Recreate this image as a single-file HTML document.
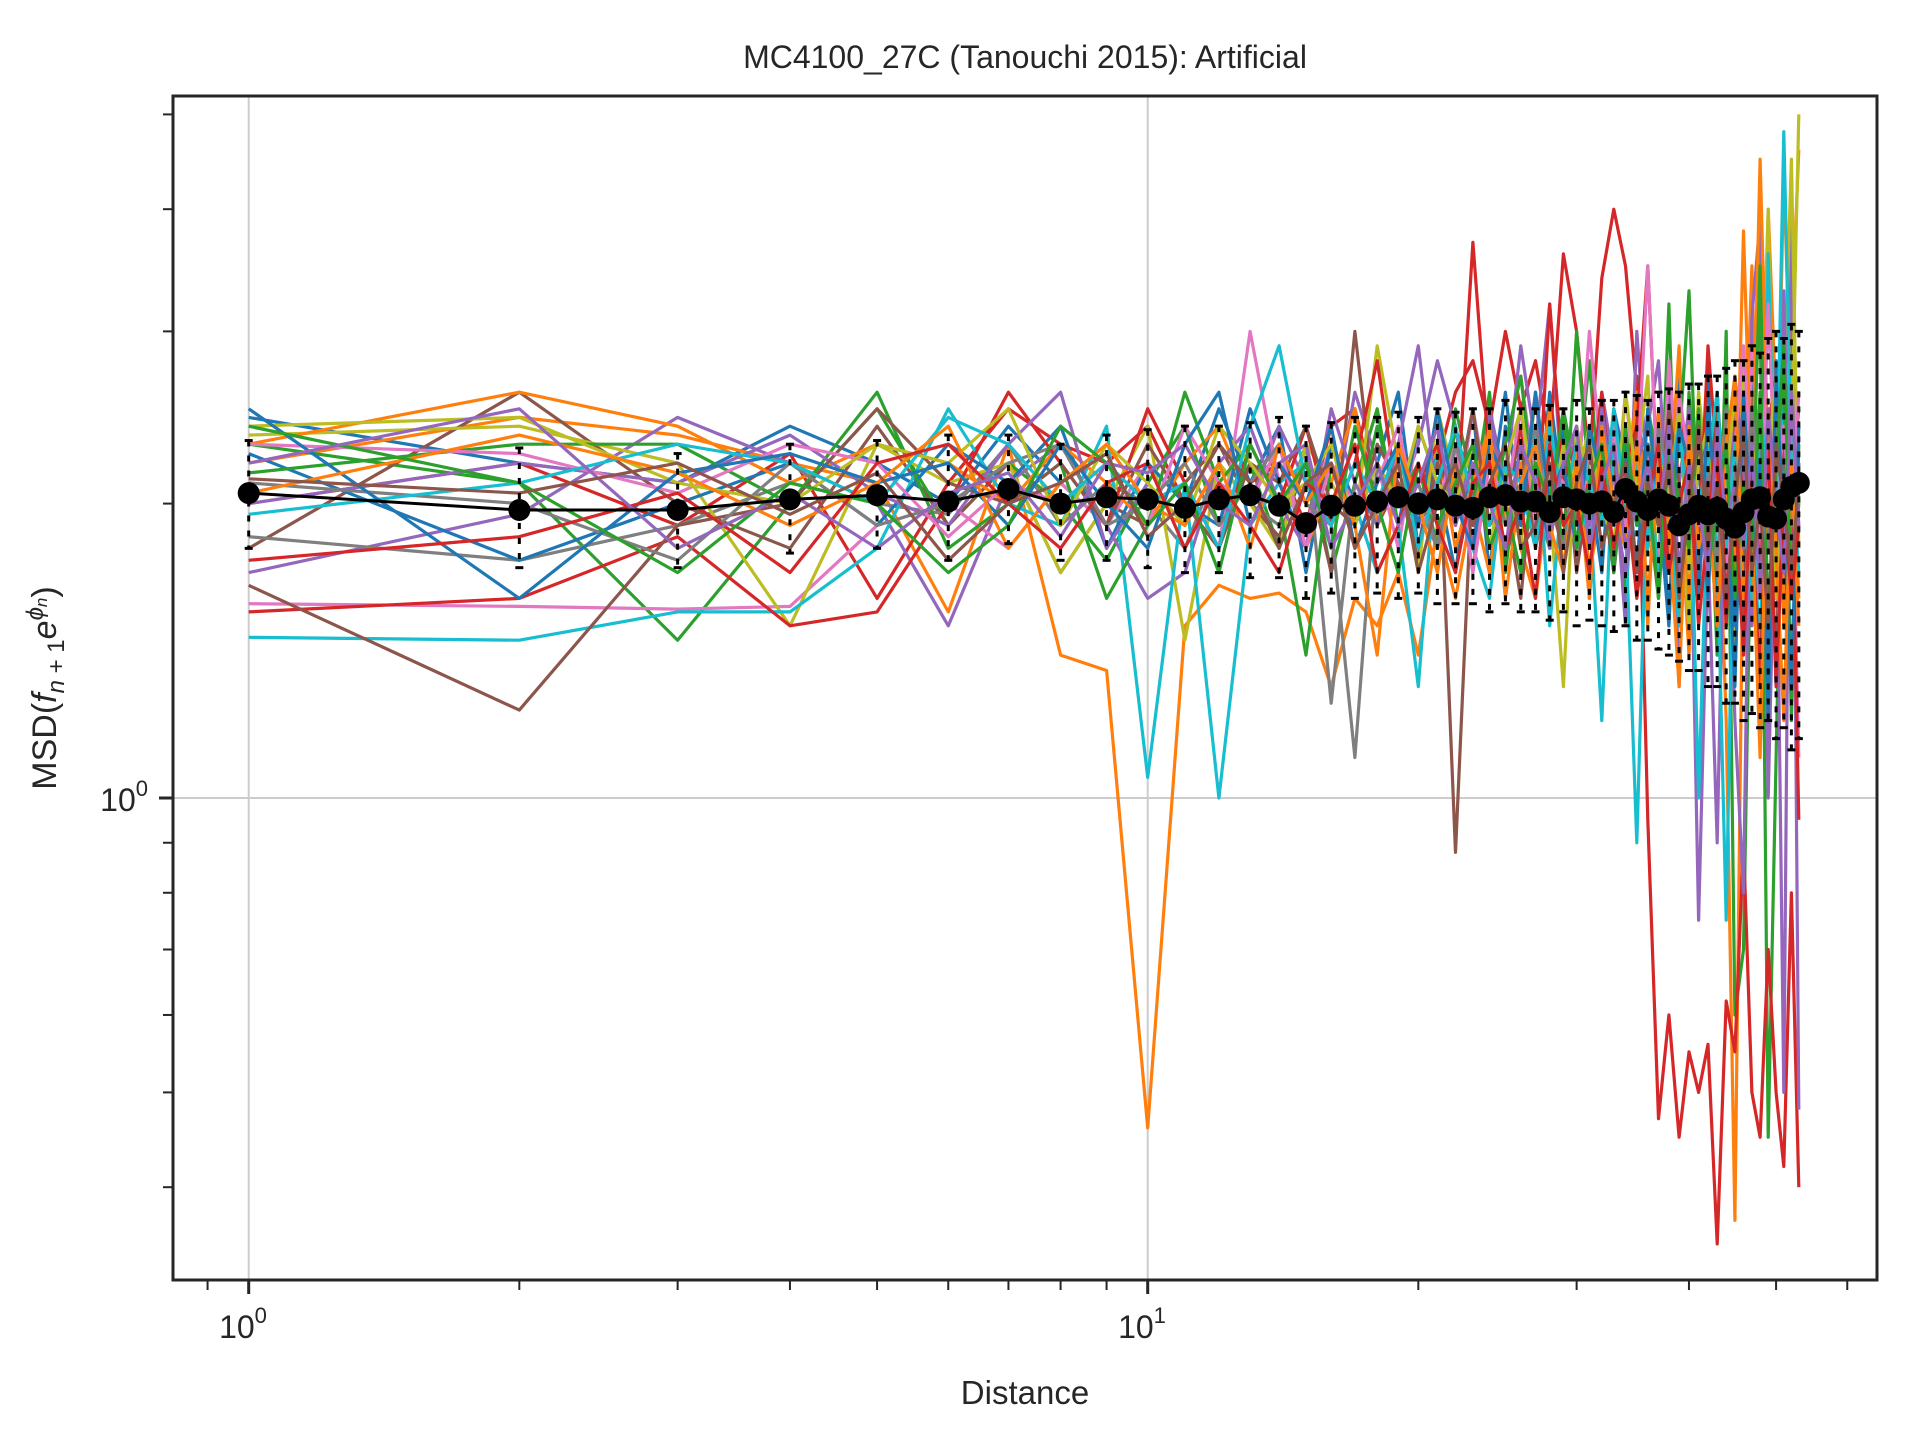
<!DOCTYPE html>
<html><head><meta charset="utf-8"><style>
html,body{margin:0;padding:0;background:#fff;}
svg{display:block;font-family:"Liberation Sans",sans-serif;}
</style></head><body>
<svg id="chart" width="1920" height="1440" viewBox="0 0 1920 1440" xmlns="http://www.w3.org/2000/svg">
<rect width="1920" height="1440" fill="#fff"/>
<text x="1025" y="68" font-size="32" text-anchor="middle" fill="#262626">MC4100_27C (Tanouchi 2015): Artificial</text>
<g id="grid"></g>
<g id="series"></g>
<g id="errs"></g>
<g id="mean"></g>
<rect x="173" y="96" width="1704" height="1184" fill="none" stroke="#262626" stroke-width="3"/>
<g id="ticks"></g>
<text x="243" y="1338" font-size="32" text-anchor="middle" fill="#262626">10<tspan dy="-15" font-size="22">0</tspan></text>
<text x="1142" y="1338" font-size="32" text-anchor="middle" fill="#262626">10<tspan dy="-15" font-size="22">1</tspan></text>
<text x="148" y="811" font-size="32" text-anchor="end" fill="#262626">10<tspan dy="-15" font-size="22">0</tspan></text>
<text x="1025" y="1404" font-size="33" text-anchor="middle" fill="#262626">Distance</text>
<text transform="translate(56,688) rotate(-90)" font-size="34" text-anchor="middle" fill="#262626">MSD(<tspan font-style="italic">f</tspan><tspan font-size="24" dy="8" font-style="italic">n</tspan><tspan font-size="24"> + 1</tspan><tspan dy="-8" font-style="italic">e</tspan><tspan font-size="24" dy="-13" font-style="italic">ϕ</tspan><tspan font-size="17" dy="4" font-style="italic">n</tspan><tspan dy="9">)</tspan></text>
</svg>
<script>
const distances = Array.from({length:53},(_,i)=>i+1);
const seriesColors = ["#1f77b4","#ff7f0e","#2ca02c","#d62728","#9467bd","#8c564b","#e377c2","#7f7f7f","#bcbd22","#17becf"];
const s0=[2.45,2.2,2.1,2.4,2.2,2.0,2.4,2.1,1.9,2.2,2.0,2.5,2.1,2.4,1.7,2.3,1.9,2.2,2.6,1.8,2.3,2.0,2.5,1.7,2.4,2.1,1.8,2.6,2.0,2.3,1.6,2.5,2.2,1.9,2.7,1.8,2.3,1.5,2.6,2.0,1.7,2.8,1.4,2.5,2.1,1.6,2.9,1.8,2.4,1.3,2.7,2.0,2.4];
const s1=[2.2,2.45,2.35,2.2,2.1,1.55,2.3,1.4,1.35,0.46,1.5,1.65,1.6,1.62,1.55,1.3,1.6,1.5,1.7,1.4,1.9,1.6,2.0,1.7,2.2,1.8,1.6,2.1,1.9,2.4,1.7,2.0,2.3,1.8,2.2,1.5,2.5,1.9,2.1,1.4,2.6,1.8,2.2,1.2,0.37,2.0,3.5,1.6,4.0,2.5,1.5,3.0,4.6];
const s2=[2.3,2.1,1.45,2.0,2.5,1.9,2.2,2.0,1.75,2.1,2.4,1.9,2.2,1.8,2.3,1.7,2.1,2.5,1.9,2.2,1.8,2.4,2.0,2.6,1.7,2.3,2.0,1.8,2.5,2.1,2.8,1.9,2.2,1.6,2.4,2.0,1.7,3.2,1.5,2.6,1.9,2.3,1.4,3.0,0.6,0.7,2.2,3.3,0.45,1.1,2.6,3.4,2.0];
const s3=[2.0,2.2,1.9,2.25,1.6,2.1,2.5,2.3,2.2,2.4,2.0,2.3,2.1,2.2,1.9,2.4,2.5,2.0,2.3,2.1,2.2,2.6,2.8,2.4,3.0,2.5,2.8,2.3,3.6,3.0,2.2,3.4,4.0,3.5,2.6,0.95,0.47,0.6,0.45,0.55,0.5,0.56,0.35,0.62,0.55,0.9,0.5,0.45,0.7,0.5,0.42,0.8,0.4];
const s4=[1.7,1.95,2.45,2.2,2.0,1.5,2.1,2.3,1.9,1.6,1.7,2.2,2.0,2.4,2.1,1.9,2.6,2.2,2.0,2.3,2.8,2.4,1.8,2.5,2.1,2.9,2.3,3.2,2.0,2.4,1.8,2.6,2.2,1.5,3.0,2.1,1.7,2.7,1.3,2.4,0.75,1.8,0.9,2.5,1.2,0.8,3.1,3.9,1.0,2.2,0.5,4.2,0.48];
const s5=[1.8,2.6,2.0,1.8,2.4,1.9,2.2,1.7,2.0,1.9,2.1,2.3,2.0,1.85,2.2,1.7,3.0,1.9,2.1,1.75,2.5,0.88,2.2,1.8,2.0,1.6,2.3,1.9,2.4,1.7,2.1,1.9,2.2,1.8,2.5,2.0,1.6,2.3,1.9,2.1,1.7,2.4,1.8,2.2,1.9,1.5,2.6,1.7,2.0,1.4,2.3,1.8,2.1];
const s6=[1.58,1.57,1.56,1.57,1.9,2.0,1.8,2.1,1.9,2.2,2.0,1.8,3.0,2.1,1.9,2.3,2.0,2.2,1.8,2.4,2.1,1.9,2.5,2.0,2.3,2.7,2.1,1.8,2.4,2.0,3.0,2.2,1.9,2.6,2.0,2.3,1.7,2.8,2.1,1.9,2.4,1.6,2.5,2.0,2.2,1.7,2.9,2.1,1.8,2.6,2.0,2.3,1.1];
const s7=[1.85,1.75,1.9,2.1,2.0,1.95,2.3,1.9,2.1,2.0,1.8,2.2,2.0,1.9,2.3,1.25,2.1,1.9,2.2,2.0,1.8,2.1,2.3,1.9,2.0,2.2,1.8,2.1,2.4,1.9,2.0,2.3,1.7,2.2,2.0,1.9,2.4,1.8,2.1,1.6,2.3,2.0,1.9,2.5,1.7,2.2,1.8,2.4,2.0,1.6,2.3,2.1,1.9];
const s8=[2.35,2.4,2.2,1.5,2.3,2.1,2.2,1.7,2.0,2.4,1.45,2.2,2.0,1.8,2.3,2.1,1.9,2.9,2.2,1.7,2.5,2.1,2.3,1.9,2.2,1.8,2.6,2.0,1.3,2.4,2.1,1.9,2.5,1.8,2.2,2.7,1.6,2.3,2.0,1.5,2.6,2.1,1.8,2.4,1.4,2.8,1.9,2.2,4.0,1.6,2.5,4.5,1.8];
const s9=[1.46,1.45,1.55,1.55,1.8,2.5,2.0,1.9,2.4,1.05,2.1,1.0,1.9,2.1,2.2,1.8,2.0,1.7,1.9,1.3,2.3,2.0,1.8,1.6,2.2,1.9,2.4,1.5,2.1,1.8,2.0,1.2,2.3,1.9,0.9,2.2,1.7,2.0,1.5,2.4,1.0,2.1,1.8,0.75,2.3,1.6,2.0,1.4,3.6,1.9,2.5,1.3,2.2];
const s10=[2.25,1.75,2.0,2.2,1.9,2.3,2.1,2.4,1.8,2.2,2.0,1.9,2.5,2.1,1.8,2.3,2.0,2.2,1.9,2.4,2.1,1.7,2.3,2.0,2.6,1.9,2.2,1.8,2.4,2.0,2.1,1.7,2.5,2.2,1.9,2.3,2.0,1.5,2.7,1.8,2.2,1.6,2.4,2.0,1.3,2.6,1.9,2.3,1.2,2.8,1.7,2.1,2.5];
const s11=[2.3,2.6,2.4,2.1,2.3,2.2,2.0,2.3,2.1,1.9,2.2,2.4,2.0,2.3,1.8,2.1,2.5,1.9,2.2,2.0,2.3,1.8,2.1,2.4,1.9,2.2,2.0,2.5,1.7,2.3,2.1,1.9,2.4,2.0,2.6,1.8,2.2,2.0,2.9,1.6,2.3,1.9,2.5,2.1,1.7,3.8,2.0,4.5,2.2,1.8,4.4,2.4,1.6];
const s12=[2.15,2.3,2.3,2.0,2.6,1.8,2.0,2.2,1.6,1.9,2.6,2.1,2.3,2.0,1.4,2.2,1.9,2.4,2.0,2.2,1.8,2.5,2.1,1.9,2.3,2.7,2.0,2.2,1.8,3.0,2.1,1.9,2.4,2.0,1.7,2.5,2.2,1.9,2.3,3.3,1.8,2.1,2.6,1.6,2.4,2.0,1.9,3.5,1.5,2.2,2.7,1.2,2.3];
const s13=[1.55,1.6,1.85,1.5,1.55,2.0,2.6,2.2,1.9,2.5,2.1,1.8,2.3,2.0,2.4,1.9,2.2,2.8,2.0,2.1,2.3,1.9,3.7,2.2,2.0,2.4,1.8,3.2,2.1,2.3,2.0,2.6,1.9,2.2,2.4,3.5,2.0,1.7,2.5,2.1,1.8,2.9,2.2,1.5,2.6,2.0,1.9,1.3,2.4,2.7,1.7,2.2,0.95];
const s14=[2.0,2.2,2.1,2.35,2.05,1.9,2.3,2.6,1.8,2.1,1.9,2.2,2.4,2.0,1.8,2.5,2.1,1.9,2.3,2.9,2.0,2.2,1.7,2.4,2.1,2.0,2.6,1.8,2.3,2.1,1.9,2.5,2.0,1.7,2.2,2.4,2.8,1.9,2.1,2.5,1.6,2.3,2.0,1.8,2.7,2.2,1.5,2.4,2.0,1.9,3.3,1.7,2.2];
const s15=[1.65,1.23,1.9,2.0,2.5,2.1,2.0,2.2,1.9,2.3,2.0,1.8,2.2,2.1,2.4,2.0,1.9,2.3,2.1,1.8,2.2,2.0,2.5,1.9,2.1,2.3,1.8,2.2,2.0,1.9,2.4,2.1,1.7,2.3,2.0,2.2,1.9,2.5,2.1,1.8,2.3,2.0,2.6,1.9,2.2,1.7,2.4,2.0,2.1,1.8,2.3,1.9,2.2];
const s16=[2.3,2.25,2.05,2.3,2.2,1.85,2.1,2.0,2.2,1.9,2.4,2.1,2.0,2.3,1.8,2.2,2.0,2.1,2.4,1.9,2.0,2.3,1.7,2.2,2.0,2.5,1.9,2.2,2.1,1.8,2.3,2.0,2.4,1.9,2.1,3.5,2.0,1.8,2.6,2.2,1.9,2.4,2.0,1.7,2.3,2.9,2.1,1.8,3.2,2.0,2.4,1.9,2.6];
const s17=[2.1,2.0,1.75,2.2,1.9,2.0,2.2,2.3,1.9,2.0,2.2,1.9,2.1,2.3,2.0,1.9,1.1,2.2,2.0,2.1,1.8,2.3,2.0,2.2,1.9,2.1,2.4,2.0,1.8,2.2,2.1,2.3,1.9,2.0,2.2,1.8,2.4,2.1,1.9,2.3,2.0,2.2,1.7,2.4,2.1,1.9,2.5,2.0,1.8,2.3,2.1,1.9,2.2];
const s18=[2.4,2.45,2.1,2.0,2.3,2.2,2.5,1.9,2.3,2.1,1.9,2.4,2.2,2.0,2.1,2.3,1.9,2.2,2.0,2.4,2.1,2.0,2.3,1.8,2.2,2.5,2.0,1.9,2.3,2.1,2.4,2.0,1.8,2.6,2.1,1.9,2.3,2.0,2.5,1.7,2.2,2.4,1.9,2.1,2.6,1.8,2.3,2.0,2.2,2.7,1.9,2.3,5.0];
const s19=[1.95,2.1,2.3,2.2,2.0,2.45,2.3,2.0,2.2,2.0,2.1,1.8,2.4,2.9,2.1,1.9,2.2,2.0,2.3,1.8,2.1,2.4,2.0,1.9,2.2,2.1,1.8,2.4,2.0,2.3,2.1,1.9,2.5,2.0,2.2,1.8,2.3,2.1,2.4,1.9,2.0,2.2,2.6,1.8,2.3,2.0,1.6,2.5,2.1,1.9,4.8,2.2,1.7];
const s20=[2.5,1.6,2.15,2.25,2.1,2.2,1.9,2.3,2.0,1.8,2.3,2.6,1.9,2.2,2.0,2.4,1.8,2.1,2.3,1.9,2.5,2.0,1.8,2.3,2.1,1.9,2.6,2.0,2.2,1.8,2.4,2.1,1.9,2.3,1.7,2.5,2.0,1.8,2.4,2.2,1.6,2.5,1.9,2.3,1.5,2.6,1.8,2.2,1.4,2.7,1.9,1.3,2.4];
const s21=[2.05,2.35,2.15,1.9,2.1,2.4,1.8,2.1,2.3,2.0,1.9,2.2,1.8,2.3,2.0,2.2,1.9,1.4,2.3,2.0,1.7,2.2,1.9,2.4,1.6,2.1,2.3,1.9,1.7,2.2,1.6,2.4,2.0,1.8,2.3,1.6,2.2,1.9,1.3,2.4,1.8,2.0,1.5,2.3,2.7,1.6,1.9,1.1,2.5,1.8,1.2,2.2,1.5];
const s22=[2.4,2.1,1.7,2.1,2.0,1.7,1.9,2.4,2.2,1.9,2.1,1.7,2.3,2.0,2.2,1.8,2.4,2.0,1.7,2.2,1.9,2.1,2.3,1.8,2.0,1.7,2.2,2.0,2.5,1.8,2.1,2.3,1.7,2.4,1.9,2.1,1.6,2.3,2.0,1.8,2.5,1.7,2.0,2.3,1.6,2.1,1.8,2.6,1.5,2.2,2.9,1.6,2.0];
const s23=[1.75,1.85,2.05,1.7,2.2,2.3,2.0,1.8,2.1,2.2,1.8,2.1,1.9,1.7,2.1,2.0,2.3,1.7,1.9,2.2,1.9,1.7,2.1,2.2,1.8,2.0,1.6,2.3,1.9,2.0,1.7,2.2,1.8,2.1,1.6,2.0,2.3,1.7,2.0,2.2,1.5,1.9,2.4,1.6,2.0,1.4,2.2,1.7,2.3,1.3,2.0,1.6,1.9];
const s24=[2.2,2.5,1.8,2.05,1.8,2.05,2.15,1.85,2.2,2.15,2.3,2.0,1.9,2.2,2.3,1.8,2.0,2.2,1.9,2.1,2.4,1.9,2.2,2.0,1.8,2.3,2.1,1.9,2.2,2.4,1.8,2.1,2.3,1.8,2.0,2.2,1.9,2.4,1.7,2.2,2.0,1.7,2.4,1.9,2.1,1.8,2.3,1.6,2.5,2.0,1.7,2.6,1.9];
const s25=[2.12,2.05,2.2,1.95,2.15,1.75,2.0,2.1,2.25,1.85,2.0,2.3,2.1,1.8,2.1,2.2,1.8,2.0,2.2,1.7,2.0,2.2,1.9,2.1,2.3,1.8,1.9,2.2,1.7,2.1,2.3,1.8,2.0,2.2,1.7,2.1,1.9,2.2,1.6,2.0,2.4,1.8,2.1,1.6,2.0,2.4,1.7,2.0,1.5,2.3,2.0,1.7,2.1];
const allSeries=[s0,s1,s2,s3,s4,s5,s6,s7,s8,s9,s10,s11,s12,s13,s14,s15,s16,s17,s18,s19,s20,s21,s22,s23,s24,s25];
const meanValues=[2.05,1.97,1.97,2.02,2.04,2.01,2.07,2.00,2.03,2.02,1.98,2.02,2.04,1.99,1.91,1.99,1.99,2.01,2.03,2.00,2.02,1.99,1.98,2.03,2.04,2.01,2.01,1.96,2.03,2.02,2.00,2.01,1.96,2.07,2.01,1.97,2.02,1.99,1.90,1.95,1.99,1.95,1.98,1.93,1.89,1.96,2.02,2.03,1.94,1.93,2.02,2.08,2.10];
const upperValues=[2.32,2.28,2.25,2.3,2.32,2.35,2.35,2.3,2.35,2.38,2.4,2.4,2.42,2.45,2.4,2.42,2.45,2.45,2.48,2.45,2.5,2.48,2.5,2.5,2.55,2.5,2.5,2.52,2.5,2.55,2.5,2.55,2.55,2.6,2.58,2.55,2.6,2.62,2.6,2.65,2.65,2.7,2.7,2.75,2.8,2.8,2.9,2.85,2.95,3.0,2.95,3.05,3.0];
const lowerValues=[1.8,1.72,1.72,1.78,1.8,1.75,1.82,1.75,1.75,1.72,1.7,1.7,1.68,1.68,1.6,1.62,1.6,1.62,1.6,1.62,1.58,1.58,1.58,1.55,1.58,1.55,1.55,1.52,1.55,1.5,1.52,1.5,1.48,1.5,1.45,1.45,1.42,1.4,1.38,1.35,1.35,1.3,1.3,1.25,1.25,1.2,1.22,1.18,1.2,1.15,1.18,1.12,1.15];
const xMajorTicks=[1,10];
const xMinorTicks=[0.9,2,3,4,5,6,7,8,9,20,30,40,50,60];
const yMajorTicks=[1];
const yMinorTicks=[0.4,0.5,0.6,0.7,0.8,0.9,2,3,4,5];

const NS="http://www.w3.org/2000/svg";
const X0=248.7, XD=899, Y0=798, YD=978;
function xs(v){return X0+Math.log10(v)*XD;}
function ys(v){return Y0-Math.log10(v)*YD;}
function mk(tag,attrs,parent){const e=document.createElementNS(NS,tag);for(const k in attrs)e.setAttribute(k,attrs[k]);parent.appendChild(e);return e;}

const grid=document.getElementById('grid');
xMajorTicks.forEach(t=>{const l=mk('line',{x1:xs(t),x2:xs(t),y1:96,y2:1280,stroke:'#cccccc','stroke-width':2},grid);

});
yMajorTicks.forEach(t=>{const l=mk('line',{x1:173,x2:1877,y1:ys(t),y2:ys(t),stroke:'#cccccc','stroke-width':2},grid);

});

const sg=document.getElementById('series');
allSeries.forEach((s,i)=>{
  const pts=s.map((v,j)=>xs(distances[j]).toFixed(1)+','+ys(v).toFixed(1)).join(' ');
  const p=mk('polyline',{points:pts,fill:'none',stroke:seriesColors[i%10],'stroke-width':3.2,'stroke-linejoin':'round'},sg);
  
  
});

const eg=document.getElementById('errs');
distances.forEach((d,j)=>{
  const x=xs(d);
  const l=mk('line',{x1:x,x2:x,y1:ys(upperValues[j]),y2:ys(lowerValues[j]),stroke:'#000','stroke-width':3,'stroke-dasharray':'6,9'},eg);
  
  
  [upperValues[j],lowerValues[j]].forEach(v=>{
    const c=mk('line',{x1:x-4,x2:x+4,y1:ys(v),y2:ys(v),stroke:'#000','stroke-width':3},eg);
    
    
  });
});

const mg=document.getElementById('mean');
const mp=mk('polyline',{points:meanValues.map((v,j)=>xs(distances[j]).toFixed(1)+','+ys(v).toFixed(1)).join(' '),fill:'none',stroke:'#000','stroke-width':3},mg);


meanValues.forEach((v,j)=>{
  const c=mk('circle',{cx:xs(distances[j]),cy:ys(v),r:11,fill:'#000'},mg);
  
  
});

const tg=document.getElementById('ticks');
xMajorTicks.forEach(t=>{const l=mk('line',{x1:xs(t),x2:xs(t),y1:1280,y2:1294,stroke:'#262626','stroke-width':3},tg);

});
xMinorTicks.forEach(t=>{const l=mk('line',{x1:xs(t),x2:xs(t),y1:1280,y2:1290,stroke:'#262626','stroke-width':2},tg);

});
yMajorTicks.forEach(t=>{const l=mk('line',{x1:159,x2:173,y1:ys(t),y2:ys(t),stroke:'#262626','stroke-width':3},tg);

});
yMinorTicks.forEach(t=>{const l=mk('line',{x1:163,x2:173,y1:ys(t),y2:ys(t),stroke:'#262626','stroke-width':2},tg);

});
</script>
</body></html>
